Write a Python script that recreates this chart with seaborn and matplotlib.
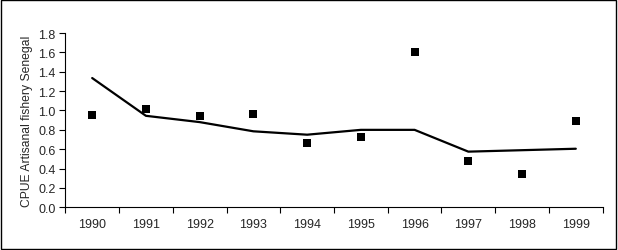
import matplotlib
matplotlib.use("Agg")
import matplotlib.pyplot as plt
import seaborn as sns
import pandas as pd
import numpy as np
from matplotlib.patches import Rectangle

years = ["1990", "1991", "1992", "1993", "1994", "1995", "1996", "1997", "1998", "1999"]
observed = [0.95, 1.015, 0.94, 0.965, 0.665, 0.73, 1.605, 0.48, 0.345, 0.895]
fitted = [1.335, 0.945, 0.88, 0.785, 0.75, 0.80, 0.80, 0.575, 0.59, 0.605]
y_ticks = [0.0, 0.2, 0.4, 0.6, 0.8, 1.0, 1.2, 1.4, 1.6, 1.8]

sns.set_style("white")
plt.rcParams["font.family"] = ["Liberation Sans", "DejaVu Sans"]

df = pd.DataFrame({"pos": np.arange(len(years)), "year": years,
                   "observed": observed, "fitted": fitted})

fig = plt.figure(figsize=(6.18, 2.51), dpi=100)
ax = fig.add_axes([0.1057, 0.170, 0.8695, 0.6945])

sns.lineplot(data=df, x="pos", y="fitted", ax=ax, color="black", linewidth=1.6)
sns.scatterplot(data=df, x="pos", y="observed", ax=ax, color="black", marker="s",
                s=28, edgecolor="black", linewidth=0)

ax.set_xlim(-0.5, len(years) - 0.5)
ax.set_ylim(0, 1.8)
ax.set_yticks(y_ticks)
ax.set_yticklabels([f"{v:.1f}" for v in y_ticks], fontsize=9)
ax.set_xticks(df["pos"])
ax.set_xticklabels(years, fontsize=9)
ax.set_xticks(np.arange(-0.5, len(years)), minor=True)
ax.tick_params(axis="x", which="major", length=0, pad=8)
ax.tick_params(axis="x", which="minor", length=4, width=0.8, color="black", direction="out", bottom=True)
ax.tick_params(axis="y", which="major", length=4, width=0.8, color="black", direction="out", left=True, pad=3)
ax.set_xlabel("")
ax.set_ylabel("CPUE Artisanal fishery Senegal", fontsize=8.7, labelpad=4)

for s in ["top", "right"]:
    ax.spines[s].set_visible(False)
for s in ["left", "bottom"]:
    ax.spines[s].set_color("black")
    ax.spines[s].set_linewidth(0.8)

fig.patches.append(Rectangle((0.002, 0.004), 0.995, 0.992, transform=fig.transFigure,
                             fill=False, edgecolor="black", linewidth=1.0))

fig.savefig("out.png", dpi=100)
